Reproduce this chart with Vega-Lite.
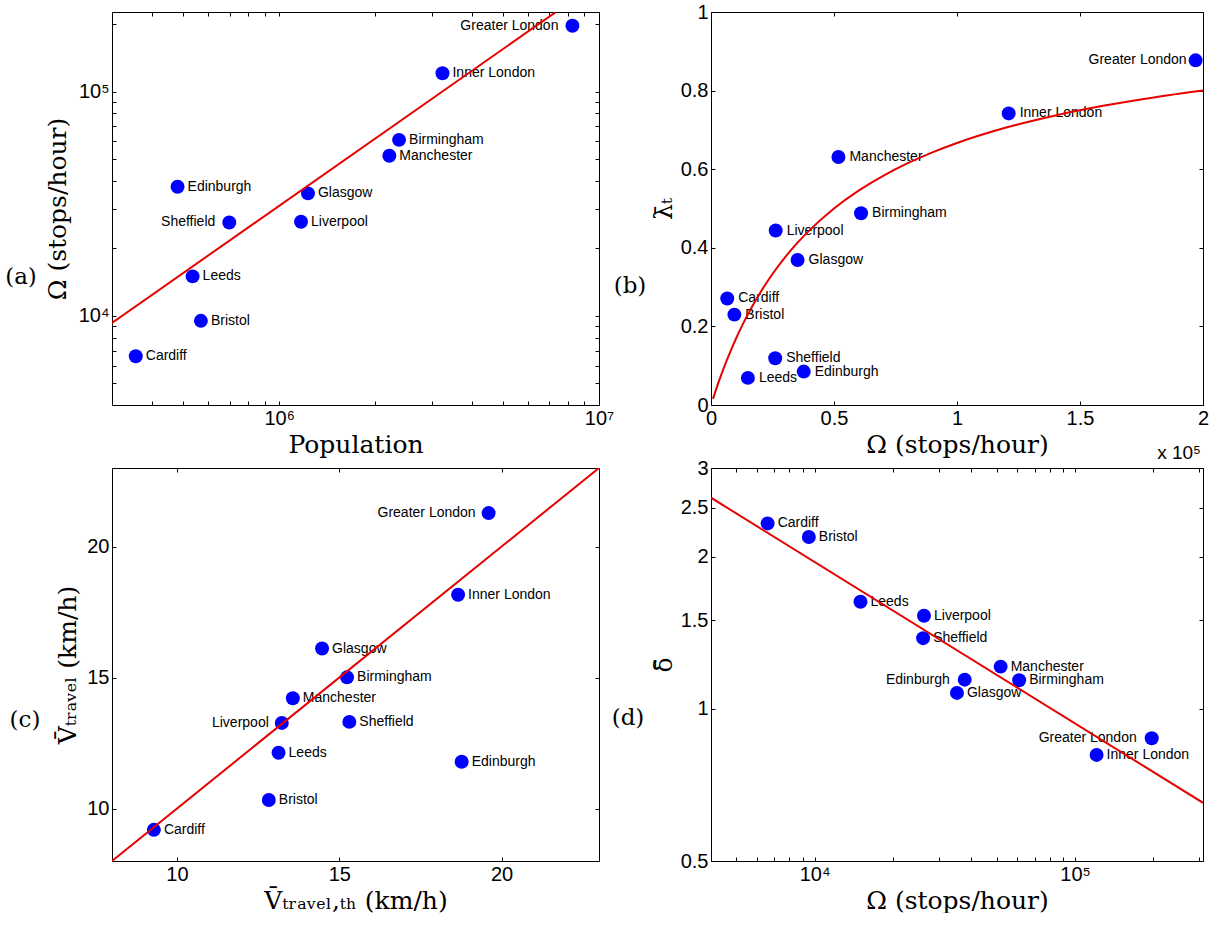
{
  "$schema": "https://vega.github.io/schema/vega-lite/v6.json",
  "padding": {"left": 5, "top": 2, "right": 0, "bottom": 0},
  "datasets": {
    "cities": [
      {"name": "Greater London", "population": 8260000, "omega": 197000, "lambda": 0.877, "v_th": 19.6, "v_travel": 21.28, "delta": 0.875},
      {"name": "Inner London", "population": 3240000, "omega": 121000, "lambda": 0.742, "v_th": 18.66, "v_travel": 18.16, "delta": 0.811},
      {"name": "Birmingham", "population": 2370000, "omega": 61000, "lambda": 0.488, "v_th": 15.24, "v_travel": 15.01, "delta": 1.14},
      {"name": "Manchester", "population": 2210000, "omega": 51800, "lambda": 0.631, "v_th": 13.57, "v_travel": 14.21, "delta": 1.213},
      {"name": "Edinburgh", "population": 481000, "omega": 37700, "lambda": 0.085, "v_th": 18.77, "v_travel": 11.79, "delta": 1.143},
      {"name": "Glasgow", "population": 1230000, "omega": 35200, "lambda": 0.369, "v_th": 14.47, "v_travel": 16.11, "delta": 1.076},
      {"name": "Sheffield", "population": 698000, "omega": 26100, "lambda": 0.119, "v_th": 15.31, "v_travel": 13.31, "delta": 1.381},
      {"name": "Liverpool", "population": 1170000, "omega": 26300, "lambda": 0.444, "v_th": 13.23, "v_travel": 13.27, "delta": 1.53},
      {"name": "Leeds", "population": 536000, "omega": 15000, "lambda": 0.069, "v_th": 13.13, "v_travel": 12.13, "delta": 1.63},
      {"name": "Bristol", "population": 569000, "omega": 9500, "lambda": 0.23, "v_th": 12.83, "v_travel": 10.33, "delta": 2.19},
      {"name": "Cardiff", "population": 356000, "omega": 6600, "lambda": 0.271, "v_th": 9.29, "v_travel": 9.19, "delta": 2.33}
    ],
    "fitA": [{"population": 300000, "omega": 9300}, {"population": 7300000, "omega": 226000}],
    "fitB": [
      {"omega": 800, "lambda": 0.0157}, {"omega": 2000, "lambda": 0.0385}, {"omega": 4000, "lambda": 0.0741},
      {"omega": 6000, "lambda": 0.1071}, {"omega": 8000, "lambda": 0.1379}, {"omega": 10000, "lambda": 0.1667},
      {"omega": 13000, "lambda": 0.2063}, {"omega": 16000, "lambda": 0.2424}, {"omega": 20000, "lambda": 0.2857},
      {"omega": 25000, "lambda": 0.3333}, {"omega": 30000, "lambda": 0.375}, {"omega": 35000, "lambda": 0.4118},
      {"omega": 40000, "lambda": 0.4444}, {"omega": 50000, "lambda": 0.5}, {"omega": 60000, "lambda": 0.5455},
      {"omega": 70000, "lambda": 0.5833}, {"omega": 80000, "lambda": 0.6154}, {"omega": 90000, "lambda": 0.6429},
      {"omega": 100000, "lambda": 0.6667}, {"omega": 120000, "lambda": 0.7059}, {"omega": 140000, "lambda": 0.7368},
      {"omega": 160000, "lambda": 0.7619}, {"omega": 180000, "lambda": 0.7826}, {"omega": 200000, "lambda": 0.8}
    ],
    "fitC": [{"v_th": 8, "v_travel": 8}, {"v_th": 23, "v_travel": 23}],
    "fitD": [{"omega": 4000, "delta": 2.62}, {"omega": 310000, "delta": 0.652}]
  },
  "config": {
    "font": "Liberation Sans",
    "view": {"stroke": null},
    "axis": {
      "grid": false, "domainColor": "#000", "domainWidth": 1, "tickColor": "#000", "tickSize": -4,
      "labelColor": "#000", "titleColor": "#000", "labelFont": "Liberation Sans", "labelFontSize": 20,
      "titleFont": "DejaVu Serif", "titleFontSize": 25, "titleFontWeight": "normal", "labelPadding": 7,
      "labelFlush": false, "labelOverlap": false
    },
    "text": {"font": "Liberation Sans", "fontSize": 14, "color": "#000", "baseline": "middle"}
  },
  "columns": 2,
  "bounds": "flush",
  "spacing": {"row": 63, "column": 112},
  "concat": [
    {
      "width": 487, "height": 393,
      "layer": [
        {
          "data": {"name": "cities"},
          "mark": {"type": "circle", "size": 195, "color": "#0000ff", "opacity": 1},
          "encoding": {
            "x": {"field": "population", "type": "quantitative",
              "scale": {"type": "log", "domain": [300000, 10000000], "nice": false},
              "axis": {"orient": "bottom", "title": "Population", "titlePadding": 4,
                "values": [400000, 500000, 600000, 700000, 800000, 900000, 1000000, 2000000, 3000000, 4000000, 5000000, 6000000, 7000000, 8000000, 9000000, 10000000],
                "labelExpr": "datum.value == 1000000 ? '10⁶' : datum.value == 10000000 ? '10⁷' : ''"}},
            "y": {"field": "omega", "type": "quantitative",
              "scale": {"type": "log", "domain": [4000, 227000], "nice": false},
              "axis": {"orient": "left", "title": "Ω (stops/hour)", "titlePadding": 8,
                "values": [5000, 6000, 7000, 8000, 9000, 10000, 20000, 30000, 40000, 50000, 60000, 70000, 80000, 90000, 100000, 200000],
                "labelExpr": "datum.value == 10000 ? '10⁴' : datum.value == 100000 ? '10⁵' : ''"}}
          }
        },
        {
          "data": {"name": "cities"},
          "transform": [{"filter": {"not": {"field": "name", "oneOf": ["Greater London", "Sheffield"]}}}],
          "mark": {"type": "text", "align": "left", "dx": 10},
          "encoding": {
            "x": {"field": "population", "type": "quantitative", "axis": null},
            "y": {"field": "omega", "type": "quantitative", "axis": null},
            "text": {"field": "name"}
          }
        },
        {
          "data": {"name": "cities"},
          "transform": [{"filter": {"field": "name", "oneOf": ["Greater London", "Sheffield"]}}],
          "mark": {"type": "text", "align": "right", "dx": -14},
          "encoding": {
            "x": {"field": "population", "type": "quantitative", "axis": null},
            "y": {"field": "omega", "type": "quantitative", "axis": null},
            "text": {"field": "name"}
          }
        },
        {
          "data": {"values": [{"panel": "(a)"}]},
          "mark": {"type": "text", "align": "center", "dx": -91, "font": "DejaVu Serif", "fontSize": 23},
          "encoding": {
            "x": {"datum": 300000, "type": "quantitative", "axis": null},
            "y": {"datum": 14970, "type": "quantitative", "axis": null},
            "text": {"field": "panel"}
          }
        },
        {
          "data": {"name": "fitA"},
          "mark": {"type": "line", "color": "#e60000", "strokeWidth": 2, "clip": true},
          "encoding": {
            "x": {"field": "population", "type": "quantitative",
              "axis": {"orient": "top", "labels": false, "title": null,
                "values": [400000, 500000, 600000, 700000, 800000, 900000, 1000000, 2000000, 3000000, 4000000, 5000000, 6000000, 7000000, 8000000, 9000000, 10000000]}},
            "y": {"field": "omega", "type": "quantitative",
              "axis": {"orient": "right", "labels": false, "title": null,
                "values": [5000, 6000, 7000, 8000, 9000, 10000, 20000, 30000, 40000, 50000, 60000, 70000, 80000, 90000, 100000, 200000]}}
          }
        }
      ]
    },
    {
      "width": 492, "height": 393,
      "layer": [
        {
          "data": {"name": "cities"},
          "mark": {"type": "circle", "size": 195, "color": "#0000ff", "opacity": 1},
          "encoding": {
            "x": {"field": "omega", "type": "quantitative",
              "scale": {"domain": [0, 200000], "nice": false, "zero": false},
              "axis": {"orient": "bottom", "title": "Ω (stops/hour)", "titlePadding": 4,
                "values": [0, 50000, 100000, 150000, 200000], "labelExpr": "datum.value / 100000 + ''"}},
            "y": {"field": "lambda", "type": "quantitative",
              "scale": {"domain": [0, 1], "nice": false},
              "axis": {"orient": "left", "title": "λ̄ₜ", "titlePadding": 4,
                "values": [0, 0.2, 0.4, 0.6, 0.8, 1], "labelExpr": "datum.value + ''"}}
          }
        },
        {
          "data": {"name": "cities"},
          "transform": [{"filter": {"not": {"field": "name", "oneOf": ["Greater London"]}}}],
          "mark": {"type": "text", "align": "left", "dx": 11},
          "encoding": {
            "x": {"field": "omega", "type": "quantitative", "axis": null},
            "y": {"field": "lambda", "type": "quantitative", "axis": null},
            "text": {"field": "name"}
          }
        },
        {
          "data": {"name": "cities"},
          "transform": [{"filter": {"field": "name", "oneOf": ["Greater London"]}}],
          "mark": {"type": "text", "align": "right", "dx": -9},
          "encoding": {
            "x": {"field": "omega", "type": "quantitative", "axis": null},
            "y": {"field": "lambda", "type": "quantitative", "axis": null},
            "text": {"field": "name"}
          }
        },
        {
          "data": {"values": [{"panel": "(b)"}]},
          "mark": {"type": "text", "align": "center", "dx": -81, "font": "DejaVu Serif", "fontSize": 23},
          "encoding": {
            "x": {"datum": 0, "type": "quantitative", "axis": null},
            "y": {"datum": 0.303, "type": "quantitative", "axis": null},
            "text": {"field": "panel"}
          }
        },
        {
          "data": {"values": [{"t": "x 10⁵"}]},
          "mark": {"type": "text", "align": "right", "dx": -2, "dy": 48, "fontSize": 19},
          "encoding": {
            "x": {"datum": 200000, "type": "quantitative", "axis": null},
            "y": {"datum": 0, "type": "quantitative", "axis": null},
            "text": {"field": "t"}
          }
        },
        {
          "data": {"name": "fitB"},
          "mark": {"type": "line", "color": "#e60000", "strokeWidth": 2, "clip": true, "interpolate": "monotone"},
          "encoding": {
            "x": {"field": "omega", "type": "quantitative",
              "axis": {"orient": "top", "labels": false, "title": null, "values": [0, 50000, 100000, 150000, 200000]}},
            "y": {"field": "lambda", "type": "quantitative",
              "axis": {"orient": "right", "labels": false, "title": null, "values": [0, 0.2, 0.4, 0.6, 0.8, 1]}}
          }
        }
      ]
    },
    {
      "width": 487, "height": 393,
      "layer": [
        {
          "data": {"name": "cities"},
          "mark": {"type": "circle", "size": 195, "color": "#0000ff", "opacity": 1},
          "encoding": {
            "x": {"field": "v_th", "type": "quantitative",
              "scale": {"domain": [8, 23], "nice": false, "zero": false},
              "axis": {"orient": "bottom", "title": "V̄ₜᵣₐᵥₑₗ,ₜₕ (km/h)", "titlePadding": 4, "values": [10, 15, 20]}},
            "y": {"field": "v_travel", "type": "quantitative",
              "scale": {"domain": [8, 23], "nice": false, "zero": false},
              "axis": {"orient": "left", "title": "V̄ₜᵣₐᵥₑₗ (km/h)", "titlePadding": 6, "values": [10, 15, 20]}}
          }
        },
        {
          "data": {"name": "cities"},
          "transform": [{"filter": {"not": {"field": "name", "oneOf": ["Greater London", "Liverpool"]}}}],
          "mark": {"type": "text", "align": "left", "dx": 10},
          "encoding": {
            "x": {"field": "v_th", "type": "quantitative", "axis": null},
            "y": {"field": "v_travel", "type": "quantitative", "axis": null},
            "text": {"field": "name"}
          }
        },
        {
          "data": {"name": "cities"},
          "transform": [{"filter": {"field": "name", "oneOf": ["Greater London", "Liverpool"]}}],
          "mark": {"type": "text", "align": "right", "dx": -13},
          "encoding": {
            "x": {"field": "v_th", "type": "quantitative", "axis": null},
            "y": {"field": "v_travel", "type": "quantitative", "axis": null},
            "text": {"field": "name"}
          }
        },
        {
          "data": {"values": [{"panel": "(c)"}]},
          "mark": {"type": "text", "align": "center", "dx": -87, "font": "DejaVu Serif", "fontSize": 23},
          "encoding": {
            "x": {"datum": 8, "type": "quantitative", "axis": null},
            "y": {"datum": 13.38, "type": "quantitative", "axis": null},
            "text": {"field": "panel"}
          }
        },
        {
          "data": {"name": "fitC"},
          "mark": {"type": "line", "color": "#e60000", "strokeWidth": 2, "clip": true},
          "encoding": {
            "x": {"field": "v_th", "type": "quantitative",
              "axis": {"orient": "top", "labels": false, "title": null, "values": [10, 15, 20]}},
            "y": {"field": "v_travel", "type": "quantitative",
              "axis": {"orient": "right", "labels": false, "title": null, "values": [10, 15, 20]}}
          }
        }
      ]
    },
    {
      "width": 492, "height": 393,
      "layer": [
        {
          "data": {"name": "cities"},
          "mark": {"type": "circle", "size": 195, "color": "#0000ff", "opacity": 1},
          "encoding": {
            "x": {"field": "omega", "type": "quantitative",
              "scale": {"type": "log", "domain": [4000, 310000], "nice": false},
              "axis": {"orient": "bottom", "title": "Ω (stops/hour)", "titlePadding": 4,
                "values": [5000, 6000, 7000, 8000, 9000, 10000, 20000, 30000, 40000, 50000, 60000, 70000, 80000, 90000, 100000, 200000, 300000],
                "labelExpr": "datum.value == 10000 ? '10⁴' : datum.value == 100000 ? '10⁵' : ''"}},
            "y": {"field": "delta", "type": "quantitative",
              "scale": {"type": "log", "domain": [0.5, 3], "nice": false},
              "axis": {"orient": "left", "title": "δ̄", "titlePadding": 4,
                "values": [0.5, 1, 1.5, 2, 2.5, 3], "labelExpr": "datum.value + ''"}}
          }
        },
        {
          "data": {"name": "cities"},
          "transform": [{"filter": {"not": {"field": "name", "oneOf": ["Greater London", "Edinburgh"]}}}],
          "mark": {"type": "text", "align": "left", "dx": 10},
          "encoding": {
            "x": {"field": "omega", "type": "quantitative", "axis": null},
            "y": {"field": "delta", "type": "quantitative", "axis": null},
            "text": {"field": "name"}
          }
        },
        {
          "data": {"name": "cities"},
          "transform": [{"filter": {"field": "name", "oneOf": ["Greater London", "Edinburgh"]}}],
          "mark": {"type": "text", "align": "right", "dx": -15},
          "encoding": {
            "x": {"field": "omega", "type": "quantitative", "axis": null},
            "y": {"field": "delta", "type": "quantitative", "axis": null},
            "text": {"field": "name"}
          }
        },
        {
          "data": {"values": [{"panel": "(d)"}]},
          "mark": {"type": "text", "align": "center", "dx": -83, "font": "DejaVu Serif", "fontSize": 23},
          "encoding": {
            "x": {"datum": 4000, "type": "quantitative", "axis": null},
            "y": {"datum": 0.959, "type": "quantitative", "axis": null},
            "text": {"field": "panel"}
          }
        },
        {
          "data": {"name": "fitD"},
          "mark": {"type": "line", "color": "#e60000", "strokeWidth": 2, "clip": true},
          "encoding": {
            "x": {"field": "omega", "type": "quantitative",
              "axis": {"orient": "top", "labels": false, "title": null,
                "values": [5000, 6000, 7000, 8000, 9000, 10000, 20000, 30000, 40000, 50000, 60000, 70000, 80000, 90000, 100000, 200000, 300000]}},
            "y": {"field": "delta", "type": "quantitative",
              "axis": {"orient": "right", "labels": false, "title": null, "values": [0.5, 1, 1.5, 2, 2.5, 3]}}
          }
        }
      ]
    }
  ]
}
